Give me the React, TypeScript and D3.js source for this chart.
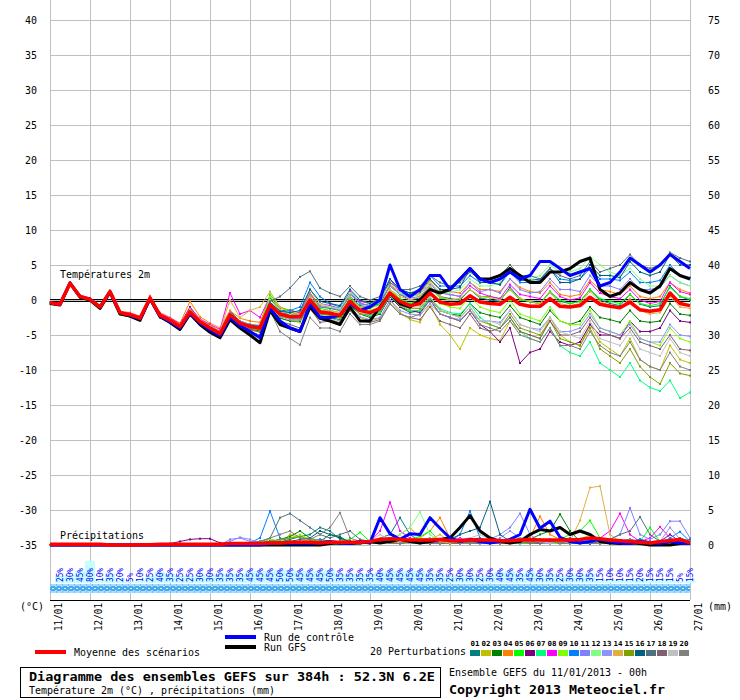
import React from "react";
import * as d3 from "d3";

const dateLabels = ["11/01","12/01","13/01","14/01","15/01","16/01","17/01","18/01","19/01","20/01","21/01","22/01","23/01","24/01","25/01","26/01","27/01"];
const tempTicks = [40,35,30,25,20,15,10,5,0,-5,-10,-15,-20,-25,-30,-35];
const precipTicks = [75,70,65,60,55,50,45,40,35,30,25,20,15,10,5,0];
const rainProb = [25,30,45,80,10,35,20,5,10,25,40,35,25,25,30,30,35,35,35,45,45,45,50,50,45,45,45,50,35,35,35,35,40,45,45,45,45,35,35,25,30,30,25,30,40,45,35,45,30,35,25,30,30,35,15,10,10,15,20,15,15,15,5,15];
const memberColors = ["#008080","#c0c000","#008000","#ff8000","#00ff00","#800080","#00ff80","#ff00ff","#80ff00","#0080ff","#8080ff","#80ff80","#9090ff","#e0b040","#80a000","#006080","#507080","#806070","#c0c0c0","#808080"];
const memberIds = ["01","02","03","04","05","06","07","08","09","10","11","12","13","14","15","16","17","18","19","20"];

const meanT = [-0.4,-0.6,2.4,0.5, 0.1,-1.0,1.2,-1.8, -2.1,-2.6,0.3,-2.2, -2.9,-3.8,-1.7,-3.1, -4.0,-4.8,-2.1,-3.3, -3.8,-4.0,-0.7,-2.0, -2.4,-2.4,0.0,-1.7, -1.9,-2.2,-0.2,-1.5, -1.8,-1.2,1.0,-0.2, -0.8,-0.5,1.0,-0.3, -0.6,-0.5,0.6,-0.3, -0.5,-0.6,0.4,-0.6, -0.9,-0.9,0.2,-0.9, -1.0,-0.8,0.4,-0.6, -0.9,-1.1,-0.3,-1.4, -1.6,-1.4,1.0,-0.5, -0.8];
const gfsT = [-0.5,-0.7,2.4,0.4, 0.0,-1.2,1.1,-2.0, -2.3,-2.9,0.2,-2.4, -3.2,-4.2,-2.0,-3.5, -4.6,-5.4,-2.8,-4.0, -5.0,-6.1,-1.5,-3.5, -4.0,-4.5,-1.0,-2.6, -3.0,-3.5,-1.0,-3.0, -3.0,-1.0,1.0,-0.5, -1.0,0.0,1.5,1.0, 1.5,3.0,4.5,3.0, 3.0,3.5,4.5,3.5, 2.5,2.5,4.0,4.0, 4.5,5.5,6.0,1.5, 0.5,1.0,2.5,1.5, 1.0,2.0,4.5,3.5, 3.0];
const ctrlT = [-0.4,-0.6,2.4,0.5, 0.1,-1.0,1.2,-1.8, -2.2,-2.7,0.2,-2.3, -3.1,-4.0,-1.9,-3.3, -4.3,-5.1,-2.5,-3.7, -4.5,-5.4,-1.2,-3.0, -4.0,-4.5,-0.5,-2.5, -2.5,-2.2,-0.5,-1.5, -1.0,0.0,5.0,1.5, 0.5,1.5,3.5,3.5, 1.5,3.0,4.5,3.0, 2.5,3.0,4.0,3.0, 3.5,5.5,5.5,4.5, 3.5,4.0,4.5,2.0, 2.5,4.0,6.0,5.0, 4.0,5.0,6.5,5.5, 4.5];

const t01 = [-0.3,-0.5,2.5,0.6, 0.2,-0.9,1.3,-1.7, -2.0,-2.5,0.5,-2.0, -2.6,-3.5,-1.2,-2.8, -3.6,-4.5,-1.6,-3.0, -3.5,-3.8,0.2,-1.5, -1.8,-2.0,1.0,-1.0, -1.2,-1.5,0.5,-0.8, -1.0,-0.5,2.0,0.8, 0.0,0.3,2.0,0.5, 0.2,0.0,1.5,0.3, 0.0,-0.2,1.8,0.2, -0.3,-0.5,1.2,-0.2, -0.5,-0.2,1.5,0.0, -0.5,-0.8,0.8,-0.6, -1.0,-0.8,2.0,0.5, 0.0];
const t02 = [-0.4,-0.7,2.3,0.4, 0.0,-1.1,1.0,-2.0, -2.3,-2.9,0.0,-2.5, -3.2,-4.2,-2.0,-3.4, -4.5,-5.3,-2.5,-3.8, -4.3,-4.6,-1.0,-2.6, -3.0,-3.2,-0.8,-2.5, -2.8,-3.2,-1.0,-2.5, -3.0,-2.6,0.0,-1.8, -2.8,-3.2,-0.5,-3.5, -5.0,-7.0,-4.0,-5.0, -5.5,-5.8,-3.0,-4.5, -5.0,-5.5,-2.5,-5.0, -6.0,-6.5,-3.5,-6.0, -7.0,-8.0,-5.5,-8.5, -9.5,-10.0,-6.5,-8.5, -9.0];
const t03 = [-0.5,-0.6,2.4,0.4, 0.0,-1.2,1.1,-2.0, -2.4,-2.8,0.1,-2.5, -3.2,-4.0,-2.0,-3.5, -4.3,-5.2,-2.5,-3.6, -4.2,-4.4,-1.2,-2.6, -3.0,-3.0,-0.5,-2.2, -2.5,-2.8,-0.8,-2.0, -2.5,-2.0,0.5,-1.0, -1.8,-1.5,0.2,-1.5, -2.0,-2.2,-0.5,-1.8, -2.2,-2.5,-0.8,-2.5, -3.0,-3.5,-1.5,-3.0, -3.5,-3.0,-1.0,-2.5, -2.8,-3.2,-1.5,-3.0, -3.2,-3.0,-0.5,-2.0, -2.2];
const t04 = [-0.3,-0.5,2.5,0.5, 0.2,-0.9,1.4,-1.6, -1.8,-2.3,0.6,-1.8, -2.5,-3.3,-0.2,-2.4, -3.3,-4.0,-1.5,-2.6, -3.0,-3.2,0.5,-1.2, -1.5,-1.8,1.0,-0.8, -1.0,-1.2,1.0,-0.5, -0.8,-0.2,2.2,1.0, 0.5,1.0,2.8,1.5, 1.2,1.0,2.5,1.5, 1.5,1.2,3.0,1.8, 1.2,1.0,2.5,0.8, 0.5,0.8,2.8,1.5, 1.2,0.8,2.0,0.5, 0.2,0.5,2.5,1.5, 1.0];
const t05 = [-0.4,-0.6,2.4,0.6, 0.1,-1.0,1.3,-1.8, -2.0,-2.5,0.4,-2.1, -2.8,-3.6,-1.4,-3.0, -3.8,-4.6,-1.8,-3.2, -3.6,-3.9,0.8,-1.0, -1.5,-1.8,0.5,-1.2, -1.5,-1.8,0.2,-1.0, -1.2,-0.6,1.5,0.2, -0.5,0.0,1.8,0.3, 0.0,0.2,1.5,0.5, 0.5,0.2,1.5,0.0, -0.2,-0.5,1.2,0.0, -0.5,-0.2,1.5,0.2, -0.2,-0.5,0.8,-0.5, -0.8,-0.5,1.8,0.5, 0.2];
const t06 = [-0.4,-0.6,2.3,0.5, 0.0,-1.0,1.2,-1.8, -2.1,-2.5,0.3,-2.0, -2.6,-3.5,-1.0,-2.8, -3.8,-4.6,-2.0,-3.2, -3.5,-3.8,-0.5,-2.0, -2.0,-2.2,0.5,-1.5, -1.8,-2.5,-0.5,-2.0, -2.2,-1.8,0.5,-1.0, -1.5,-1.8,0.0,-2.0, -2.5,-3.0,-1.5,-3.5, -4.5,-6.0,-4.0,-9.0, -7.5,-7.0,-4.5,-6.0, -6.5,-6.0,-3.5,-5.0, -5.0,-5.5,-3.0,-4.5, -4.5,-4.0,-1.5,-3.0, -3.2];
const t07 = [-0.4,-0.6,2.4,0.5, 0.1,-1.0,1.2,-1.9, -2.2,-2.7,0.2,-2.3, -3.0,-4.0,-1.8,-3.3, -4.2,-5.0,-2.3,-3.5, -4.0,-4.2,-0.8,-2.2, -2.6,-2.8,-0.2,-2.0, -2.2,-2.6,-0.5,-2.0, -2.2,-1.8,0.6,-0.8, -1.5,-1.5,0.3,-1.2, -1.8,-2.0,-0.5,-2.5, -3.5,-4.0,-2.5,-4.5, -5.5,-6.0,-4.0,-6.5, -7.5,-8.0,-6.0,-9.0, -10.0,-11.0,-9.0,-11.5, -12.5,-13.0,-11.5,-14.0, -13.2];
const t08 = [-0.3,-0.5,2.5,0.6, 0.2,-0.9,1.3,-1.7, -1.9,-2.4,0.5,-1.9, -2.6,-3.4,-1.2,-2.7, -3.5,-4.2,1.0,-2.0, -1.5,-2.5,0.5,-1.5, -1.5,-1.8,1.5,-0.5, -0.8,-1.2,1.2,-0.2, -0.5,0.0,3.0,1.0, 0.5,0.8,2.5,1.0, 0.8,0.5,2.0,1.0, 0.5,0.2,2.2,0.8, 0.5,0.2,2.0,0.5, 0.0,0.3,2.5,1.0, 0.5,0.2,1.5,0.0, -0.5,-0.2,2.5,1.2, 0.8];
const t09 = [-0.4,-0.6,2.4,0.5, 0.1,-1.0,1.2,-1.8, -2.0,-2.6,0.4,-2.2, -2.9,-3.8,-1.5,-3.0, -3.9,-4.7,-1.8,-3.1, -3.5,-3.7,0.5,-1.5, -2.0,-2.2,0.5,-1.5, -1.8,-2.0,0.0,-1.5, -1.5,-1.0,1.5,0.0, -0.8,-0.8,1.0,-0.5, -1.0,-1.2,0.5,-1.0, -1.5,-1.8,0.0,-2.0, -2.5,-3.0,-1.0,-3.0, -3.5,-3.5,-1.5,-4.0, -4.5,-5.0,-3.0,-5.5, -6.0,-6.5,-4.0,-5.5, -6.0];
const t10 = [-0.4,-0.6,2.4,0.5, 0.1,-1.0,1.2,-1.8, -2.1,-2.6,0.3,-2.2, -2.9,-3.8,-1.6,-3.0, -4.0,-4.8,-2.0,-3.3, -3.8,-4.0,-0.5,-1.5, -1.5,-1.0,2.5,0.5, -0.5,-1.0,1.0,-0.5, -0.8,0.0,3.0,1.5, 1.0,1.5,3.5,2.0, 2.0,2.0,3.5,2.5, 2.5,2.2,4.0,2.5, 2.5,2.8,4.5,3.0, 2.8,3.0,4.5,3.0, 3.0,2.8,4.0,2.5, 2.5,2.8,5.0,3.5, 3.2];
const t11 = [-0.4,-0.6,2.4,0.5, 0.1,-1.0,1.2,-1.8, -2.1,-2.6,0.3,-2.2, -2.9,-3.7,-1.5,-2.9, -3.9,-4.6,-1.8,-3.0, -3.5,-3.7,-0.3,-1.8, -2.0,-2.0,0.8,-1.0, -1.0,-1.5,0.8,-0.5, -0.8,-0.3,2.0,0.8, 0.3,0.5,2.2,1.0, 0.8,0.5,2.5,1.2, 1.5,1.0,3.0,1.5, 1.0,1.2,3.0,1.5, 1.5,1.2,3.5,2.0, 2.0,1.5,3.0,1.5, 1.5,1.8,3.5,2.5, 2.0];
const t12 = [-0.4,-0.6,2.4,0.5, 0.1,-1.0,1.2,-1.8, -2.1,-2.6,0.3,-2.2, -2.9,-3.8,-1.7,-3.1, -4.0,-4.8,-2.1,-3.3, -3.8,-4.0,0.0,-1.5, -2.0,-1.5,1.5,-0.5, -1.0,-1.2,1.0,0.0, -0.5,0.0,2.5,1.0, 0.5,0.8,2.5,1.0, 1.0,1.5,3.0,2.0, 2.0,2.5,4.0,3.0, 3.0,3.5,5.0,4.0, 4.0,4.5,6.2,5.0, 4.0,3.5,4.5,3.0, 2.0,2.0,3.5,2.5, 2.0];
const t13 = [-0.4,-0.6,2.4,0.5, 0.1,-1.0,1.2,-1.8, -2.1,-2.6,0.3,-2.2, -2.9,-3.8,-1.7,-3.1, -4.1,-4.9,-2.2,-3.4, -4.0,-4.2,-1.0,-2.4, -2.8,-2.8,-0.5,-2.2, -2.6,-3.0,-1.0,-2.4, -2.8,-2.5,0.0,-1.5, -2.0,-2.2,-0.5,-2.0, -2.5,-2.8,-1.5,-3.0, -3.0,-3.2,-1.5,-3.5, -4.0,-4.2,-2.5,-4.5, -4.5,-4.0,-2.0,-4.0, -4.5,-5.0,-3.5,-5.5, -6.0,-6.0,-3.5,-5.0, -5.2];
const t14 = [-0.4,-0.6,2.4,0.5, 0.1,-1.0,1.2,-1.8, -2.0,-2.5,0.4,-2.0, -2.7,-3.5,-1.3,-2.8, -3.7,-4.4,0.0,-2.5, -1.5,-1.0,1.2,-1.0, -1.8,-2.0,0.5,-1.5, -1.5,-1.8,0.5,-1.0, -1.0,-0.8,1.5,0.5, 0.0,0.5,2.0,0.5, 0.0,0.2,1.5,0.5, 0.3,0.0,1.5,0.2, -0.2,-0.5,1.0,-0.5, -0.8,-0.5,1.2,-0.2, -0.8,-1.0,0.2,-1.5, -2.0,-1.8,0.5,-1.0, -1.2];
const t15 = [-0.4,-0.6,2.4,0.5, 0.1,-1.0,1.2,-1.8, -2.1,-2.6,0.3,-2.2, -3.0,-3.9,-1.8,-3.2, -4.1,-4.9,-2.3,-3.5, -4.0,-4.3,-1.0,-2.3, -2.6,-2.6,-0.3,-2.0, -2.2,-2.5,-0.5,-2.0, -2.0,-1.5,0.8,-0.8, -1.2,-1.2,0.5,-1.5, -2.0,-2.5,-1.0,-3.0, -3.5,-4.0,-2.0,-4.0, -4.5,-5.0,-3.0,-5.5, -6.0,-6.5,-4.0,-7.0, -8.0,-9.0,-7.0,-9.5, -11.0,-12.0,-9.0,-10.5, -10.8];
const t16 = [-0.4,-0.6,2.4,0.5, 0.1,-1.0,1.2,-1.8, -2.1,-2.6,0.3,-2.2, -2.9,-3.8,-1.7,-3.1, -4.0,-4.8,-2.1,-3.3, -3.6,-3.8,-0.3,-1.6, -1.8,-1.5,1.5,-0.2, -0.5,-0.8,1.5,0.0, -0.5,0.2,3.0,1.5, 1.0,1.2,3.0,1.5, 1.5,1.8,4.5,2.5, 2.5,2.2,4.5,2.8, 2.8,3.0,4.5,2.5, 2.5,3.0,5.0,3.5, 3.5,3.2,5.5,4.0, 3.5,4.0,6.5,5.0, 5.0];
const t17 = [-0.4,-0.6,2.4,0.5, 0.1,-1.0,1.2,-1.8, -2.1,-2.6,0.3,-2.2, -2.9,-3.8,-1.7,-3.1, -4.0,-4.8,-2.1,-3.3, -3.6,-3.6,-0.2,0.5, 1.7,3.3,4.1,1.7, 1.0,0.5,2.0,0.5, 0.0,0.5,2.5,1.5, 1.5,2.0,3.5,2.5, 2.0,2.5,4.0,3.0, 3.0,3.5,5.0,3.5, 3.5,3.0,4.5,3.5, 3.0,3.5,5.5,4.0, 4.5,5.0,6.5,5.0, 4.5,5.0,6.8,6.0, 5.5];
const t18 = [-0.4,-0.6,2.4,0.5, 0.1,-1.0,1.2,-1.8, -2.1,-2.6,0.3,-2.2, -2.9,-3.8,-1.7,-3.1, -4.1,-5.0,-2.4,-3.6, -4.2,-4.6,-1.2,-3.0, -3.5,-4.0,-1.2,-3.2, -3.0,-3.5,-1.5,-3.0, -3.2,-2.8,-0.5,-2.0, -2.5,-2.8,-1.0,-3.0, -3.5,-4.0,-2.0,-4.0, -4.5,-4.0,-2.5,-4.5, -5.0,-5.5,-3.0,-5.0, -5.0,-4.5,-2.5,-4.5, -5.0,-5.5,-4.0,-6.0, -6.5,-7.0,-5.0,-7.0, -7.2];
const t19 = [-0.4,-0.6,2.4,0.5, 0.1,-1.0,1.2,-1.8, -2.1,-2.6,0.3,-2.2, -2.9,-3.8,-1.7,-3.1, -4.0,-4.8,-2.1,-3.3, -3.8,-4.0,-0.7,-2.0, -2.5,-2.5,0.0,-1.8, -2.0,-2.3,-0.3,-1.5, -1.8,-1.2,1.0,-0.5, -1.0,-1.0,0.5,-1.5, -2.0,-2.5,-1.0,-3.0, -3.0,-3.5,-1.5,-3.5, -4.0,-4.5,-2.5,-4.5, -5.0,-5.5,-3.0,-5.5, -6.0,-6.5,-4.5,-7.0, -7.5,-8.0,-5.5,-7.5, -8.0];
const t20 = [-0.4,-0.6,2.4,0.5, 0.1,-1.0,1.2,-1.8, -2.1,-2.6,0.3,-2.2, -3.0,-3.9,-1.8,-3.2, -4.2,-5.3,-2.5,-3.8, -4.5,-5.0,-1.5,-4.5, -5.5,-6.4,-2.5,-4.0, -4.0,-4.5,-2.0,-3.5, -3.5,-3.0,-0.5,-2.0, -2.5,-2.0,0.0,-2.0, -2.5,-3.0,-1.5,-3.5, -4.0,-4.5,-3.0,-5.0, -5.5,-6.0,-4.0,-6.5, -6.5,-7.0,-4.5,-6.5, -7.5,-8.0,-6.0,-8.5, -9.5,-10.0,-7.5,-9.5, -10.0];

const meanP = [0.1,0.1,0.1,0.1,0.1,0.1,0.0,0.0, 0.0,0.05,0.05,0.1,0.1,0.1,0.1,0.1, 0.1,0.1,0.2,0.2,0.2,0.2,0.3,0.3, 0.4,0.4,0.4,0.3,0.4,0.4,0.4,0.4, 0.5,0.8,0.9,0.8,0.7,0.7,0.7,0.8, 0.6,0.6,0.7,0.7,0.7,0.6,0.6,0.7, 0.8,0.7,0.7,0.7,0.7,0.8,1.0,0.9, 0.7,0.6,0.5,0.4,0.3,0.5,0.6,0.8, 0.3];
const gfsP = [0,0,0,0,0,0,0,0, 0,0,0,0,0,0,0,0, 0,0,0,0,0,0,0,0, 0,0,0,0,0.2,0.3,0.2,0.3, 0.5,0.3,0.5,0.8,0.5,0.3,0.5,0.8, 1.0,2.5,4.2,2.0,1.0,0.5,0.3,0.5, 1.5,2.2,2.0,2.5,1.5,2.0,1.5,0.5, 0.3,0.2,0.3,0.2,0.0,0.0,0.0,0.2, 0.3];
const ctrlP = [0,0,0,0,0,0,0,0, 0,0,0,0,0,0,0,0, 0,0,0,0,0,0,0.2,0.3, 0.2,0.3,0.2,0.3,0.5,0.3,0.2,0.5, 0.3,3.9,1.6,0.8,1.6,1.5,3.9,2.4, 1.0,0.5,0.8,0.5,0.3,0.5,0.8,1.5, 5.1,2.4,3.4,1.1,0.5,0.3,0.5,0.8, 0.5,0.3,0.2,0.5,0.3,0.2,0.5,0.3, 0.2];

const p01 = [0,0,0,0,0,0,0,0, 0,0,0,0,0,0,0,0, 0,0,0,0,0.3,0.5,0.8,0.5, 0.8,1.2,1.5,2.5,2.0,0.8,0.5,0.3, 0.2,1.0,1.5,3.9,1.5,0.5,0.8,0.3, 0.2,0.5,0.8,0.3,0.5,0.2,0.3,0.5, 0.3,0.5,0.2,0.3,0.8,0.5,0.3,0.2, 0.5,0.3,0.2,0.5,0.3,0.2,0.5,1.0, 0.5];
const p02 = [0,0,0,0,0,0,0,0, 0,0,0,0,0,0,0,0, 0,0,0,0,0.2,0.4,0.5,0.3, 1.5,1.0,0.5,0.3,0.2,0.5,0.3,0.2, 0.2,0.5,0.3,0.2,0.5,0.3,0.2,0.3, 0.2,0.3,0.5,0.8,0.3,0.2,0.2,0.3, 0.5,0.2,0.3,0.2,0.2,0.3,0.5,0.3, 0.2,0.3,0.5,0.2,0.3,0.5,0.2,0.3, 0.2];
const p03 = [0,0,0,0,0,0,0,0, 0,0,0,0,0,0,0,0, 0,0,0,0,0,0.2,0.5,0.8, 1.2,2.0,1.0,0.5,1.5,1.2,0.3,0.5, 0.3,0.5,0.3,0.5,0.8,0.5,0.3,0.5, 0.3,0.8,0.5,0.3,0.5,0.8,0.5,1.0, 0.8,1.5,2.0,4.4,2.0,0.5,0.3,0.5, 0.3,0.2,0.3,0.2,0.3,0.5,0.3,0.2, 0.3];
const p04 = [0,0,0,0,0,0,0,0, 0,0,0,0,0,0,0,0, 0,0,0,0,0.2,0.3,0.5,0.3, 0.5,0.3,0.5,0.8,0.5,0.3,0.2,0.3, 0.5,1.0,0.8,1.5,2.5,1.0,2.0,3.9, 1.0,0.5,0.8,0.3,0.5,0.3,0.5,0.8, 1.0,4.1,1.5,0.8,0.5,0.3,0.5,0.3, 0.2,0.3,0.5,0.2,0.3,0.2,0.5,0.3, 0.2];
const p05 = [0,0,0,0,0,0,0,0, 0,0,0,0,0,0,0,0, 0,0,0,0,0,0.2,0.3,0.5, 0.3,0.5,0.8,0.5,0.3,0.5,0.8,1.8, 0.5,0.3,1.0,0.5,0.8,1.2,2.0,0.5, 0.3,0.5,0.8,0.3,0.2,0.5,0.3,0.2, 0.5,0.3,0.5,0.8,1.5,2.0,3.5,1.0, 0.5,0.3,0.2,0.5,2.5,0.5,0.3,0.5, 0.3];
const p06 = [0,0,0,0,0,0,0,0, 0,0,0,0,0.2,0.5,0.8,0.9, 0.9,0.3,0.2,0.2,0.3,0.2,0.3,0.2, 0.3,0.5,0.3,0.2,0.5,0.3,0.2,0.3, 0.2,0.3,0.5,0.8,0.3,0.5,0.3,0.2, 0.3,0.5,0.8,1.0,0.5,0.3,0.5,0.8, 0.5,0.3,0.5,0.8,0.5,0.3,0.2,0.5, 0.3,0.2,0.5,0.8,0.3,0.5,1.5,0.5, 0.3];
const p07 = [0,0,0,0,0,0,0,0, 0,0,0,0,0,0,0,0, 0,0,0,0,0,0,0.2,0.3, 0.5,0.3,0.2,0.5,0.3,0.2,0.3,0.5, 0.3,0.5,0.8,0.5,0.3,0.8,1.0,0.5, 0.3,0.2,0.5,0.3,0.2,0.5,0.3,0.2, 0.3,0.5,0.2,0.3,0.5,0.2,0.3,0.2, 0.2,0.3,0.2,0.5,0.3,0.2,0.3,0.5, 0.3];
const p08 = [0,0,0,0,0,0,0,0, 0,0,0,0,0,0,0,0, 0,0,0,0,0,0.2,0.3,0.2, 0.3,0.2,0.5,0.3,0.5,0.3,0.5,0.3, 0.5,2.0,6.1,2.0,1.0,0.8,0.5,0.3, 0.5,1.0,0.5,0.3,0.5,0.8,0.5,0.3, 0.5,0.3,0.8,0.5,0.3,0.5,0.8,1.0, 2.0,4.5,1.5,0.5,1.0,2.6,1.0,0.5, 0.3];
const p09 = [0,0,0,0,0,0,0,0, 0,0,0,0,0,0,0,0, 0,0,0,0,0.2,0.5,0.8,0.5, 1.0,1.5,0.8,0.5,0.3,0.5,0.3,0.5, 0.3,0.5,0.3,0.5,0.8,1.0,0.5,0.3, 0.5,0.3,0.2,0.5,0.8,0.3,0.2,0.5, 0.3,0.5,0.2,0.3,0.5,0.8,1.5,0.5, 0.3,0.2,0.3,0.5,0.2,0.3,0.5,0.2, 0.3];
const p10 = [0,0,0,0,0,0,0,0, 0,0,0,0,0,0,0,0, 0,0,0,0,0.3,1.0,4.85,1.0, 0.5,0.3,0.5,0.8,0.5,0.3,0.2,0.5, 0.3,0.5,0.8,0.5,0.3,0.5,0.8,0.5, 0.5,1.5,4.85,1.0,0.5,0.3,0.5,0.8, 0.5,0.3,0.5,0.3,0.5,0.8,0.5,0.3, 0.2,0.3,0.5,0.8,0.5,0.3,1.0,1.9, 0.5];
const p11 = [0,0,0,0,0,0,0,0, 0,0,0,0,0,0,0,0, 0,0,0.8,1.0,0.5,0.2,0.3,0.5, 0.3,0.2,0.3,0.5,0.3,0.2,0.3,0.2, 0.3,0.5,0.8,0.5,0.3,0.2,0.5,0.8, 0.5,0.3,0.2,0.5,0.8,1.5,2.5,4.5, 1.5,0.5,0.3,0.5,0.8,0.5,0.3,0.5, 0.8,1.5,5.3,1.5,0.8,1.5,3.4,3.4, 1.0];
const p12 = [0,0,0,0,0,0,0,0, 0,0,0,0,0,0,0,0, 0,0,0,0,0.2,0.5,0.3,0.2, 0.5,0.3,0.2,0.3,0.5,0.3,0.2,0.3, 0.5,0.8,1.0,1.5,2.5,4.7,1.5,0.5, 0.3,0.5,0.8,0.3,0.5,0.3,0.2,0.5, 0.3,0.2,0.5,0.8,0.5,0.3,0.5,0.3, 0.5,0.3,0.2,0.5,0.3,0.5,0.8,0.5, 0.3];
const p13 = [0,0,0,0,0,0,0,0, 0,0,0,0,0,0,0,0, 0,0,0.5,1.1,0.8,0.3,0.2,0.3, 0.2,0.3,0.5,0.3,0.2,0.3,0.5,0.3, 0.2,0.3,0.5,0.8,0.5,0.3,0.2,0.3, 0.5,0.8,1.0,0.5,0.3,1.0,2.0,1.0, 0.5,0.3,0.2,0.5,0.8,0.5,0.3,0.2, 0.5,0.3,0.5,0.2,0.3,0.5,2.5,0.8, 0.5];
const p14 = [0,0,0,0,0,0,0,0, 0,0,0,0,0,0,0,0, 0,0,0,0,0,0.2,0.3,0.2, 0.3,0.5,0.8,0.5,0.3,0.2,0.3,0.5, 0.3,0.5,0.3,0.2,0.5,0.3,0.8,1.5, 0.5,0.3,0.2,0.3,0.5,0.3,0.2,0.3, 0.5,0.3,0.5,0.8,0.5,3.5,8.2,8.4, 1.5,0.5,0.3,0.2,0.3,0.5,0.3,0.2, 0.3];
const p15 = [0,0,0,0,0,0,0,0, 0,0,0,0,0,0,0,0, 0,0,0,0,0.2,0.3,0.5,0.8, 1.0,1.2,0.8,0.5,0.3,0.2,0.5,0.3, 0.2,0.5,0.3,0.2,0.3,0.5,0.8,0.3, 0.2,0.3,0.5,0.3,0.2,0.3,0.5,0.3, 0.2,0.3,0.5,0.2,0.3,0.2,0.5,0.3, 0.2,0.3,0.2,0.5,0.3,0.2,0.3,0.2, 0.2];
const p16 = [0,0,0,0,0,0,0,0, 0,0,0,0,0,0,0,0, 0,0,0,0,0.2,0.3,0.5,0.3, 0.5,0.8,1.0,2.0,1.5,1.0,0.5,0.3, 0.5,0.8,1.0,0.5,0.3,0.5,0.8,0.5, 0.8,1.5,2.0,2.5,6.2,1.5,0.5,0.3, 0.5,0.8,0.5,0.3,0.5,0.3,0.2,0.5, 0.3,0.5,0.8,0.5,0.3,0.5,0.8,0.5, 0.3];
const p17 = [0,0,0,0,0,0,0,0, 0,0,0,0,0,0,0,0, 0,0,0,0,0.3,0.5,1.0,3.9, 4.5,3.5,2.5,1.5,1.0,1.5,2.0,0.8, 0.5,0.3,0.5,0.8,0.5,0.3,0.2,0.5, 0.3,0.5,0.3,0.2,0.5,0.8,0.5,0.3, 0.5,0.3,0.5,0.8,1.0,0.5,0.3,0.5, 0.8,1.5,2.0,4.0,1.5,0.5,0.3,0.5, 0.8];
const p18 = [0,0,0,0,0,0,0,0, 0,0,0,0,0,0,0,0, 0,0,0,0,0.2,0.3,0.5,0.3, 0.5,0.3,0.2,0.5,0.3,0.5,0.3,0.2, 0.3,0.5,0.3,0.2,0.5,0.3,0.2,0.5, 0.3,0.2,0.5,0.3,0.2,0.5,0.3,0.5, 0.3,0.2,0.5,0.3,0.2,0.3,0.5,0.2, 0.3,0.5,0.3,0.2,0.5,0.3,0.2,0.3, 0.2];
const p19 = [0,0,0,0,0,0,0,0, 0,0,0,0,0,0,0,0, 0,0,0,0,0,0.2,0.3,0.2, 0.3,0.5,0.3,0.2,0.3,0.5,0.3,0.2, 0.5,1.5,0.8,0.5,0.3,0.5,0.8,0.5, 0.3,0.5,1.0,1.5,0.8,0.5,0.3,0.5, 0.8,0.5,0.3,0.5,0.3,0.5,0.8,0.3, 0.5,0.3,0.2,0.5,0.3,0.5,0.3,0.2, 0.3];
const p20 = [0,0,0,0,0,0,0,0, 0,0,0,0,0,0,0,0, 0,0,0,0,0.2,0.5,1.0,1.5, 2.0,1.0,0.8,1.5,2.5,4.6,1.0,0.5, 0.3,0.5,0.3,0.2,0.5,0.3,0.5,0.8, 0.5,0.3,0.2,0.5,0.3,0.2,0.5,0.3, 0.5,0.8,0.5,0.3,0.2,0.5,0.3,0.2, 0.3,0.5,0.8,0.5,0.3,0.2,0.5,0.3, 0.2];

const memberT = [t01,t02,t03,t04,t05,t06,t07,t08,t09,t10,t11,t12,t13,t14,t15,t16,t17,t18,t19,t20];
const memberP = [p01,p02,p03,p04,p05,p06,p07,p08,p09,p10,p11,p12,p13,p14,p15,p16,p17,p18,p19,p20];

const MONO = "'DejaVu Sans Mono', 'Liberation Mono', monospace";

const X = d3.scaleLinear().domain([0, 64]).range([50, 690]);
const yT = d3.scaleLinear().domain([-35, 40]).range([545, 20]);
const yP = d3.scaleLinear().domain([0, 75]).range([545, 20]);
const xDay = d3.scaleLinear().domain([0, 16]).range([50, 690]);
const xProb = d3.scaleBand<number>().domain(d3.range(64)).range([55, 695]);
const hProb = d3.scaleLinear().domain([0, 100]).range([0, 27]);

const tLine = d3.line<number>().x((_, i) => X(i)).y((d) => yT(d));
const pLine = d3.line<number>().x((_, i) => X(i)).y((d) => yP(d));

function T({ x, y, s, n, bold, size, anchor, fill }: any) {
  return (
    <text x={x} y={y} fontFamily={MONO} fontSize={size || 10} fontWeight={bold ? "bold" : "normal"}
      textLength={n ? n : undefined} lengthAdjust="spacingAndGlyphs" textAnchor={anchor || "start"} fill={fill || "#000"}>
      {s}
    </text>
  );
}

function Series({ data, color, width, line, ys, markers }: any) {
  return (
    <g>
      <path d={line(data) || ""} fill="none" stroke={color} strokeWidth={width} strokeLinejoin="round" />
      {markers && data.map((d: number, i: number) => (
        <rect key={i} x={X(i) - 1} y={ys(d) - 1} width={2} height={2} fill={color} />
      ))}
    </g>
  );
}

export default function App() {
  const W = 740, H = 700;
  return (
    <svg width={W} height={H} style={{ position: "absolute", left: 0, top: 0, background: "#fff" }}
      shapeRendering="crispEdges">
      <defs>
        <pattern id="snow" x={50} y={584} width={6} height={9} patternUnits="userSpaceOnUse">
          <rect width={6} height={9} fill="#a6dcff" />
          <circle cx={3} cy={4.5} r={2.8} fill="#4aa8ec" />
          <circle cx={3} cy={4.5} r={1} fill="#d8f2ff" />
          <circle cx={0} cy={1.2} r={1} fill="#6cc0f6" />
          <circle cx={0} cy={7.8} r={1} fill="#6cc0f6" />
        </pattern>
      </defs>
      <rect width={W} height={H} fill="#fff" />

      {tempTicks.map((t) => (
        <line key={"h" + t} x1={50} x2={690} y1={yT(t)} y2={yT(t)} stroke="#c0c0c0" />
      ))}
      {dateLabels.map((d, i) => (
        <line key={"v" + d} x1={xDay(i)} x2={xDay(i)} y1={0} y2={600} stroke="#c0c0c0" />
      ))}

      {rainProb.map((p, i) => (
        <rect key={"rb" + i} x={xProb(i)} y={583 - hProb(p)} width={xProb.bandwidth()} height={hProb(p)} fill="#c4ffff" />
      ))}
      <rect x={50} y={584} width={640} height={9} fill="url(#snow)" />
      {rainProb.map((p, i) => (
        <text key={"rt" + i} transform={`translate(${(xProb(i) || 0) + xProb.bandwidth() / 2 + 3},582) rotate(-90)`}
          fontFamily={MONO} fontSize={8} fill="#0000ff" textLength={p >= 10 ? 14 : 9} lengthAdjust="spacingAndGlyphs">
          {p + "%"}
        </text>
      ))}

      <line x1={50} x2={690} y1={299} y2={299} stroke="#000" />
      <line x1={50} x2={690} y1={301} y2={301} stroke="#000" />

      <g shapeRendering="auto">
        {memberT.map((s, k) => (
          <Series key={"mt" + k} data={s} color={memberColors[k]} width={1} line={tLine} ys={yT} markers />
        ))}
        <Series data={gfsT} color="#000" width={3} line={tLine} ys={yT} />
        <Series data={ctrlT} color="#0000ff" width={3} line={tLine} ys={yT} />
        <Series data={meanT} color="#ff0000" width={3.5} line={tLine} ys={yT} />

        {memberP.map((s, k) => (
          <Series key={"mp" + k} data={s} color={memberColors[k]} width={1} line={pLine} ys={yP} markers />
        ))}
        <Series data={gfsP} color="#000" width={3} line={pLine} ys={yP} />
        <Series data={ctrlP} color="#0000ff" width={3} line={pLine} ys={yP} />
        <Series data={meanP} color="#ff0000" width={3.5} line={pLine} ys={yP} />
      </g>

      <T x={60} y={278} s="Températures 2m" n={90} />
      <T x={60} y={539} s="Précipitations" n={84} />

      {tempTicks.map((t) => (
        <T key={"lt" + t} x={37} y={yT(t) + 4} s={String(t)} anchor="end" n={String(t).length * 6} />
      ))}
      {precipTicks.map((t) => (
        <T key={"rt" + t} x={708} y={yP(t) + 4} s={String(t)} n={String(t).length * 6} />
      ))}

      <line x1={50} x2={690} y1={600} y2={600} stroke="#000" />
      {dateLabels.map((d, i) => (
        <text key={"d" + d} transform={`translate(${xDay(i) + 12},603) rotate(-90)`} textAnchor="end"
          fontFamily={MONO} fontSize={10} textLength={28} lengthAdjust="spacingAndGlyphs">{d}</text>
      ))}
      <T x={20} y={610} s="(°C)" n={24} />
      <T x={708} y={610} s="(mm)" n={24} />

      <rect x={35} y={650} width={31} height={4} fill="#ff0000" />
      <T x={74} y={656} s="Moyenne des scénarios" n={126} />
      <rect x={225} y={635} width={31} height={4} fill="#0000ff" />
      <T x={264} y={641} s="Run de contrôle" n={90} />
      <rect x={225} y={645} width={31} height={4} fill="#000" />
      <T x={264} y={651} s="Run GFS" n={42} />
      <T x={370} y={655} s="20 Perturbations" n={96} />
      {memberColors.map((c, k) => (
        <g key={"lg" + k}>
          <rect x={470 + k * 11} y={650} width={10} height={6} fill={c} />
          <text x={475 + k * 11} y={646} textAnchor="middle" fontFamily={MONO} fontSize={7} fontWeight="bold"
            textLength={9} lengthAdjust="spacingAndGlyphs">{memberIds[k]}</text>
        </g>
      ))}

      <rect x={20.5} y={667.5} width={420} height={30} fill="none" stroke="#000" />
      <T x={29} y={681} s="Diagramme des ensembles GEFS sur 384h : 52.3N 6.2E" n={406} bold size={13} />
      <T x={29} y={694} s="Température 2m (°C) , précipitations (mm)" n={246} />
      <T x={449} y={676} s="Ensemble GEFS du 11/01/2013 - 00h" n={198} />
      <T x={449} y={694} s="Copyright 2013 Meteociel.fr" n={216} bold size={13} />
    </svg>
  );
}
